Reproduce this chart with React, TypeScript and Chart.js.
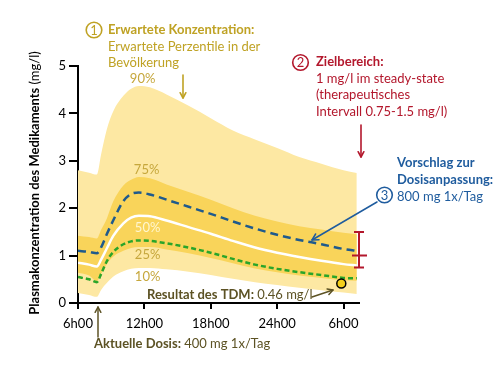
import React, { useEffect, useRef } from "react";
import { Chart, registerables } from "chart.js";

Chart.register(...registerables);

// ---- data ----
const hours = [6, 7, 7.7, 8.1, 8.6, 9.2, 10.1, 10.8, 11.5, 12.5, 14, 16, 18, 20, 22, 24, 26, 28, 30, 31.2];
const p90 = [2.8, 2.75, 2.71, 3.15, 3.66, 4.05, 4.37, 4.52, 4.58, 4.55, 4.4, 4.16, 3.9, 3.64, 3.45, 3.27, 3.08, 2.94, 2.8, 2.74];
const p75 = [1.42, 1.39, 1.36, 1.55, 1.78, 2.15, 2.48, 2.6, 2.66, 2.63, 2.5, 2.34, 2.18, 2.0, 1.84, 1.72, 1.62, 1.55, 1.48, 1.45];
const p50 = [0.85, 0.81, 0.77, 0.92, 1.15, 1.42, 1.68, 1.8, 1.84, 1.83, 1.74, 1.6, 1.46, 1.31, 1.17, 1.06, 0.97, 0.89, 0.82, 0.79];
const p25 = [0.64, 0.58, 0.46, 0.62, 0.82, 0.98, 1.1, 1.16, 1.18, 1.18, 1.13, 1.05, 0.95, 0.84, 0.73, 0.65, 0.58, 0.53, 0.48, 0.47];
const p10 = [0.21, 0.17, 0.13, 0.28, 0.42, 0.56, 0.67, 0.72, 0.74, 0.74, 0.71, 0.66, 0.59, 0.51, 0.44, 0.38, 0.32, 0.27, 0.22, 0.19];
const dose800 = [1.1, 1.08, 1.05, 1.18, 1.45, 1.75, 2.15, 2.3, 2.33, 2.29, 2.18, 2.03, 1.88, 1.72, 1.57, 1.44, 1.33, 1.24, 1.14, 1.1];
const dose400 = [0.55, 0.5, 0.44, 0.62, 0.88, 1.08, 1.24, 1.3, 1.32, 1.31, 1.26, 1.17, 1.06, 0.93, 0.81, 0.72, 0.65, 0.59, 0.53, 0.52];

const xTickHours = [6, 12, 18, 24, 30];
const yTickValues = [0, 1, 2, 3, 4, 5];
const xMin = 6;
const xMax = 31.4;

const tdmHour = 29.8;
const tdmValue = 0.41;

const targetHour = 31.4;
const targetLow = 0.75;
const targetMid = 1;
const targetHigh = 1.5;

// ---- style ----
const FONT = "Lato, 'Open Sans', sans-serif";
const OLIVE = "#bfa224";
const PCT = "#c6a73c";
const RED = "#b3172c";
const BLUE = "#1f5c9e";
const DARK_OLIVE = "#5c5224";
const LIGHT_BAND = "rgb(253,232,163)";
const DARK_BAND = "rgb(249,212,90)";

type Run = { t: string; b?: boolean; c: string };

function drawRuns(ctx: CanvasRenderingContext2D, x: number, y: number, runs: Run[], size = 13) {
  let cx = x;
  ctx.textAlign = "left";
  ctx.textBaseline = "alphabetic";
  for (const r of runs) {
    ctx.font = `${r.b ? "bold " : ""}${size}px ${FONT}`;
    ctx.fillStyle = r.c;
    ctx.fillText(r.t, cx, y);
    cx += ctx.measureText(r.t).width;
  }
}

function runsWidth(ctx: CanvasRenderingContext2D, runs: Run[], size = 13) {
  let w = 0;
  for (const r of runs) {
    ctx.font = `${r.b ? "bold " : ""}${size}px ${FONT}`;
    w += ctx.measureText(r.t).width;
  }
  return w;
}

function arrow(ctx: CanvasRenderingContext2D, x1: number, y1: number, x2: number, y2: number, color: string, w = 1.5, head = 6) {
  const a = Math.atan2(y2 - y1, x2 - x1);
  ctx.save();
  ctx.strokeStyle = color;
  ctx.lineWidth = w;
  ctx.lineCap = "round";
  ctx.lineJoin = "round";
  ctx.beginPath();
  ctx.moveTo(x1, y1);
  ctx.lineTo(x2, y2);
  ctx.stroke();
  ctx.beginPath();
  ctx.moveTo(x2 - head * Math.cos(a - 0.5), y2 - head * Math.sin(a - 0.5));
  ctx.lineTo(x2, y2);
  ctx.lineTo(x2 - head * Math.cos(a + 0.5), y2 - head * Math.sin(a + 0.5));
  ctx.stroke();
  ctx.restore();
}

function circleNum(ctx: CanvasRenderingContext2D, cx: number, cy: number, n: string, color: string) {
  ctx.save();
  ctx.strokeStyle = color;
  ctx.lineWidth = 1.6;
  ctx.beginPath();
  ctx.arc(cx, cy, 7.8, 0, Math.PI * 2);
  ctx.stroke();
  ctx.fillStyle = color;
  ctx.font = `13px ${FONT}`;
  ctx.textAlign = "center";
  ctx.textBaseline = "middle";
  ctx.fillText(n, cx, cy + 0.5);
  ctx.restore();
}

const annotations = {
  id: "annotations",
  afterDatasetsDraw(chart: any) {
    const { ctx, scales } = chart;
    const x = scales.x;
    const y = scales.y;
    ctx.save();
    // percentile labels
    ctx.font = `13px ${FONT}`;
    ctx.textAlign = "center";
    ctx.textBaseline = "alphabetic";
    const lx = x.getPixelForValue(12.2);
    ctx.fillStyle = PCT;
    ctx.fillText("90%", lx - 4, 83);
    ctx.fillText("75%", lx, 174);
    ctx.fillStyle = "#fff6cf";
    ctx.fillText("50%", lx + 1, 232);
    ctx.fillStyle = PCT;
    ctx.fillText("25%", lx + 1, 259);
    ctx.fillText("10%", lx + 1, 281);

    // target interval bar
    const bx = x.getPixelForValue(targetHour);
    const yl = y.getPixelForValue(targetLow);
    const yh = y.getPixelForValue(targetHigh);
    const ym = y.getPixelForValue(targetMid);
    ctx.strokeStyle = RED;
    ctx.lineWidth = 2;
    ctx.beginPath();
    ctx.moveTo(bx, yl);
    ctx.lineTo(bx, yh);
    ctx.moveTo(bx - 5, yl);
    ctx.lineTo(bx + 5, yl);
    ctx.moveTo(bx - 5, yh);
    ctx.lineTo(bx + 5, yh);
    ctx.moveTo(bx - 7, ym);
    ctx.lineTo(bx + 8, ym);
    ctx.stroke();
    ctx.restore();
  },
  afterDraw(chart: any) {
    const { ctx } = chart;
    ctx.save();
    // (1) expected concentration
    circleNum(ctx, 94, 30, "1", OLIVE);
    drawRuns(ctx, 108, 34, [{ t: "Erwartete Konzentration:", b: true, c: OLIVE }]);
    drawRuns(ctx, 108, 51, [{ t: "Erwartete Perzentile in der", c: OLIVE }]);
    drawRuns(ctx, 108, 67, [{ t: "Bevölkerung", c: OLIVE }]);
    arrow(ctx, 183, 75, 183, 98, OLIVE, 1.6, 6);

    // (2) target range
    circleNum(ctx, 300.5, 62.5, "2", RED);
    drawRuns(ctx, 316, 66, [{ t: "Zielbereich:", b: true, c: RED }]);
    drawRuns(ctx, 316, 82.5, [{ t: "1 mg/l im steady-state", c: RED }]);
    drawRuns(ctx, 316, 99, [{ t: "(therapeutisches", c: RED }]);
    drawRuns(ctx, 316, 115.5, [{ t: "Intervall 0.75-1.5 mg/l)", c: RED }]);
    arrow(ctx, 361, 125, 361, 157, RED, 1.6, 6);

    // (3) proposal
    drawRuns(ctx, 397, 167, [{ t: "Vorschlag zur", b: true, c: BLUE }]);
    drawRuns(ctx, 397, 183.5, [{ t: "Dosisanpassung:", b: true, c: BLUE }]);
    circleNum(ctx, 384.5, 195, "3", BLUE);
    drawRuns(ctx, 397, 201, [{ t: "800 mg 1x/Tag", c: BLUE }]);
    arrow(ctx, 377, 202, 312, 240, BLUE, 1.5, 7);

    // TDM result
    drawRuns(ctx, 147, 299, [
      { t: "Resultat des TDM: ", b: true, c: DARK_OLIVE },
      { t: "0.46 mg/l", c: DARK_OLIVE },
    ]);
    arrow(ctx, 312, 297, 333, 290, DARK_OLIVE, 1.5, 6);

    // current dose
    drawRuns(ctx, 94, 348, [
      { t: "Aktuelle Dosis: ", b: true, c: DARK_OLIVE },
      { t: "400 mg 1x/Tag", c: DARK_OLIVE },
    ]);
    arrow(ctx, 98, 337, 98, 307, DARK_OLIVE, 1.5, 6);

    // y axis title
    const runs: Run[] = [
      { t: "Plasmakonzentration des Medikaments ", b: true, c: "#000" },
      { t: "(mg/l)", c: "#000" },
    ];
    const w = runsWidth(ctx, runs, 13);
    ctx.translate(38.5, 183);
    ctx.rotate(-Math.PI / 2);
    drawRuns(ctx, -w / 2, 0, runs, 13);
    ctx.restore();
  },
};

export default function App() {
  const ref = useRef<HTMLCanvasElement | null>(null);

  useEffect(() => {
    const canvas = ref.current;
    if (!canvas) return;
    const pts = (arr: number[]) => hours.map((h, i) => ({ x: h, y: arr[i] }));
    const base = {
      pointRadius: 0,
      cubicInterpolationMode: "monotone" as const,
    };
    const chart = new Chart(canvas, {
      type: "line",
      data: {
        datasets: [
          { ...base, label: "90%", data: pts(p90), borderWidth: 0, borderColor: LIGHT_BAND, backgroundColor: LIGHT_BAND, fill: 1, order: 10 },
          { ...base, label: "10%", data: pts(p10), borderWidth: 0, borderColor: LIGHT_BAND, fill: false, order: 9 },
          { ...base, label: "75%", data: pts(p75), borderWidth: 0, borderColor: DARK_BAND, backgroundColor: DARK_BAND, fill: 3, order: 8 },
          { ...base, label: "25%", data: pts(p25), borderWidth: 0, borderColor: DARK_BAND, fill: false, order: 7 },
          { ...base, label: "50%", data: pts(p50), borderWidth: 2.5, borderColor: "#ffffff", fill: false, order: 3 },
          { ...base, label: "800 mg", data: pts(dose800), borderWidth: 2.5, borderColor: "#1f5a8c", borderDash: [8, 5], fill: false, order: 2 },
          { ...base, label: "400 mg", data: pts(dose400), borderWidth: 2.5, borderColor: "#2aa52a", borderDash: [5, 3], fill: false, order: 1 },
          {
            type: "scatter" as any,
            label: "TDM",
            data: [{ x: tdmHour, y: tdmValue }],
            pointRadius: 4.5,
            pointBackgroundColor: "#f4cf1a",
            pointBorderColor: "#000",
            pointBorderWidth: 1.5,
            showLine: false,
            order: 0,
          } as any,
        ],
      },
      options: {
        animation: false,
        responsive: false,
        devicePixelRatio: 1,
        layout: { padding: { top: 66, right: 141, bottom: 0, left: 0 } },
        plugins: { legend: { display: false }, tooltip: { enabled: false } },
        scales: {
          x: {
            type: "linear",
            min: xMin,
            max: xMax,
            afterBuildTicks: (s: any) => {
              s.ticks = xTickHours.map((v) => ({ value: v }));
            },
            afterFit: (s: any) => {
              s.height = 72;
            },
            ticks: {
              color: "#000",
              font: { family: FONT, size: 13 },
              padding: 7,
              maxRotation: 0,
              autoSkip: false,
              callback: (v: any) => {
                const h = Number(v) % 24 === 0 ? 24 : Number(v) % 24;
                return `${h}h00`;
              },
            },
            grid: { display: true, drawOnChartArea: false, drawTicks: true, tickLength: 6, color: "#000", lineWidth: 2 },
            border: { display: true, color: "#000", width: 2 },
          },
          y: {
            type: "linear",
            min: 0,
            max: 5,
            afterBuildTicks: (s: any) => {
              s.ticks = yTickValues.map((v) => ({ value: v }));
            },
            afterFit: (s: any) => {
              s.width = 78;
            },
            ticks: {
              color: "#000",
              font: { family: FONT, size: 13 },
              padding: 3,
            },
            grid: { display: true, drawOnChartArea: false, drawTicks: true, tickLength: 9, color: "#000", lineWidth: 2 },
            border: { display: true, color: "#000", width: 2 },
          },
        },
      },
      plugins: [annotations],
    });
    return () => chart.destroy();
  }, []);

  return (
    <div style={{ position: "fixed", left: 0, top: 0, width: 500, height: 375, background: "#fff" }}>
      <canvas ref={ref} width={500} height={375} style={{ width: 500, height: 375, display: "block" }} />
    </div>
  );
}
